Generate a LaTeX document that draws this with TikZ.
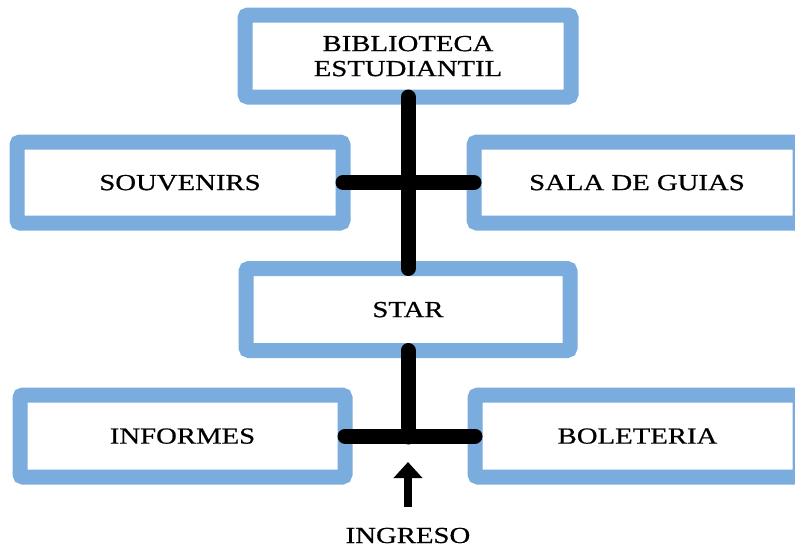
\documentclass[tikz,border=0pt]{standalone}
\usepackage{fontspec}
\setmainfont[FakeStretch=1.25,FakeBold=0.6]{Liberation Serif}
\usetikzlibrary{arrows.meta}
\definecolor{boxblue}{RGB}{122,172,221}
\tikzset{
  box/.style={draw=boxblue, line width=15pt, fill=white, rounded corners=3pt,
    minimum width=326pt, minimum height=82pt, inner sep=0pt, outer sep=0pt,
    align=center, text depth=0pt, font=\fontsize{23}{25}\selectfont},
  conn/.style={draw=black, line width=15pt, line cap=round},
  label/.style={inner sep=0pt, font=\fontsize{23}{25}\selectfont}
}
\begin{document}
\begin{tikzpicture}[x=1pt,y=-1pt]
\useasboundingbox (0,0) rectangle (795,549);
\node[box] (bib) at (408,56) {BIBLIOTECA\\ESTUDIANTIL};
\node[box, minimum height=81pt] (souv) at (180,182.5) {SOUVENIRS};
\node[box, minimum height=81pt] (sala) at (637,182.5) {SALA DE GUIAS};
\node[box, minimum width=324pt] (star) at (408,309.5) {STAR};
\node[box, minimum width=325pt] (info) at (182.5,436) {INFORMES};
\node[box, minimum width=325pt] (bole) at (637.5,436) {BOLETERIA};
\node[label, anchor=base] (ing) at (408,543) {INGRESO};
\coordinate (j) at (408,437);
\draw[conn] (bib.south) -- (star.north);
\draw[conn] (souv.east) -- (sala.west);
\draw[conn] (star.south) -- (j);
\draw[conn] (info.east) -- (bole.west);
\draw[line width=8pt, -{Triangle[width=28pt,length=16pt]}] ([yshift=21pt]ing.north) -- ([yshift=-25pt]j);
\end{tikzpicture}
\end{document}
